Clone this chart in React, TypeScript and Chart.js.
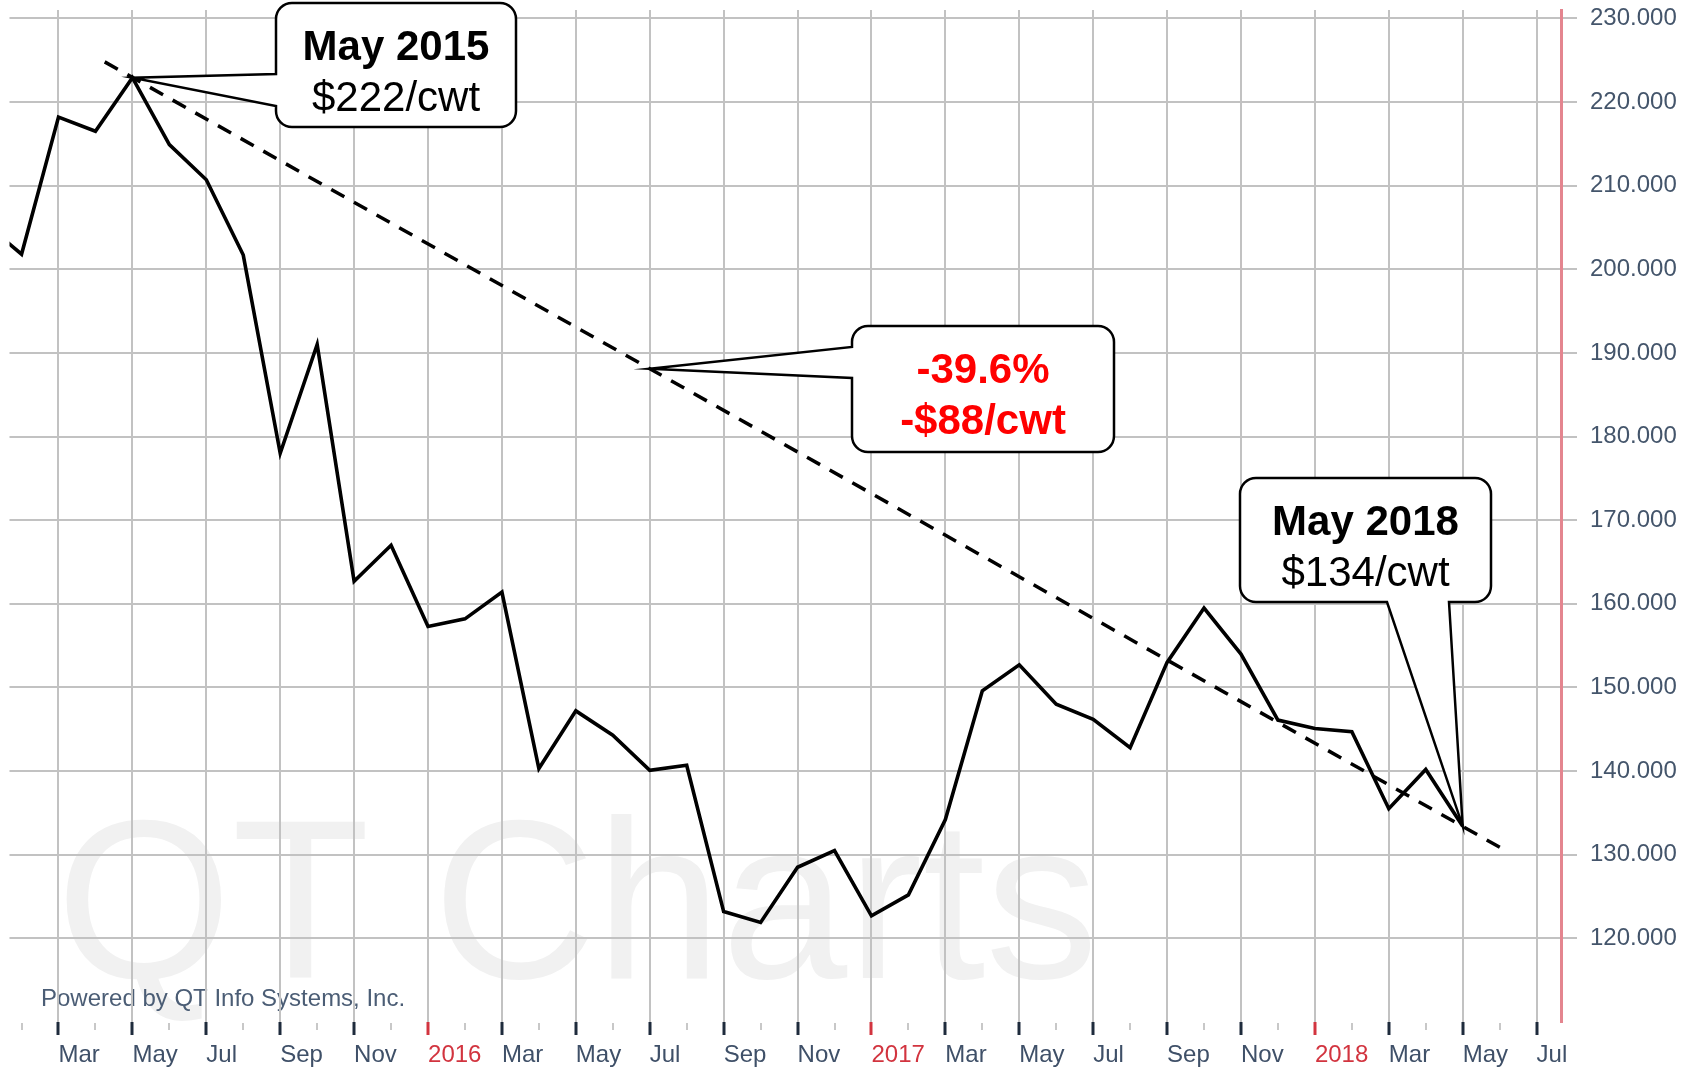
import React, { useEffect, useRef } from "react";
import { Chart, registerables } from "chart.js";

Chart.register(...registerables);

const FONT = '"Liberation Sans", Arial, Helvetica, sans-serif';

// Monthly prices, Jan 2015 .. May 2018 ($/cwt)
const months = [
  "Jan 2015", "Feb 2015", "Mar 2015", "Apr 2015", "May 2015", "Jun 2015", "Jul 2015", "Aug 2015", "Sep 2015", "Oct 2015", "Nov 2015", "Dec 2015",
  "Jan 2016", "Feb 2016", "Mar 2016", "Apr 2016", "May 2016", "Jun 2016", "Jul 2016", "Aug 2016", "Sep 2016", "Oct 2016", "Nov 2016", "Dec 2016",
  "Jan 2017", "Feb 2017", "Mar 2017", "Apr 2017", "May 2017", "Jun 2017", "Jul 2017", "Aug 2017", "Sep 2017", "Oct 2017", "Nov 2017", "Dec 2017",
  "Jan 2018", "Feb 2018", "Mar 2018", "Apr 2018", "May 2018",
];
const prices = [
  205.5, 201.8, 218.2, 216.5, 222.9, 214.9, 210.7, 201.7, 178.0, 191.0, 162.7, 167.0,
  157.3, 158.2, 161.4, 140.3, 147.2, 144.3, 140.1, 140.7, 123.2, 121.9, 128.5, 130.5,
  122.7, 125.2, 134.2, 149.6, 152.7, 148.0, 146.2, 142.8, 153.0, 159.5, 154.0, 146.1,
  145.1, 144.7, 135.5, 140.2, 133.4,
];

// Dashed trend line end points (month index from Jan 2015, price)
const trendMonths = [3.25, 41.2];
const trendPrices = [224.8, 130.4];

// X tick labels for month indices 1..42 (Feb 2015 .. Jul 2018)
const xTickLabels = [
  "", "Mar", "", "May", "", "Jul", "", "Sep", "", "Nov",
  "", "2016", "", "Mar", "", "May", "", "Jul", "", "Sep",
  "", "Nov", "", "2017", "", "Mar", "", "May", "", "Jul",
  "", "Sep", "", "Nov", "", "2018", "", "Mar", "", "May",
  "", "Jul",
];
const yTicks = [120, 130, 140, 150, 160, 170, 180, 190, 200, 210, 220, 230];

const calloutStart = ["May 2015", "$222/cwt"];
const calloutChange = ["-39.6%", "-$88/cwt"];
const calloutEnd = ["May 2018", "$134/cwt"];

const GRID = "#c2c2c2";
const NAVY = "#1e2b3c";
const SLATE = "#3f5068";
const YEAR_RED = "#d2343f";

function isYear(v: number) {
  const l = xTickLabels[v - 1] || "";
  return l.startsWith("20");
}

function trendAt(m: number) {
  const t = (m - trendMonths[0]) / (trendMonths[1] - trendMonths[0]);
  return trendPrices[0] + t * (trendPrices[1] - trendPrices[0]);
}

function bubblePath(
  ctx: CanvasRenderingContext2D,
  x: number, y: number, w: number, h: number, r: number,
  side: "left" | "bottom", a: number, b: number, tx: number, ty: number
) {
  ctx.beginPath();
  ctx.moveTo(x + r, y);
  ctx.lineTo(x + w - r, y);
  ctx.arcTo(x + w, y, x + w, y + r, r);
  ctx.lineTo(x + w, y + h - r);
  ctx.arcTo(x + w, y + h, x + w - r, y + h, r);
  if (side === "bottom") {
    ctx.lineTo(b, y + h);
    ctx.lineTo(tx, ty);
    ctx.lineTo(a, y + h);
  }
  ctx.lineTo(x + r, y + h);
  ctx.arcTo(x, y + h, x, y + h - r, r);
  if (side === "left") {
    ctx.lineTo(x, b);
    ctx.lineTo(tx, ty);
    ctx.lineTo(x, a);
  }
  ctx.lineTo(x, y + r);
  ctx.arcTo(x, y, x + r, y, r);
  ctx.closePath();
}

function drawCallout(
  ctx: CanvasRenderingContext2D,
  box: [number, number, number, number],
  side: "left" | "bottom", a: number, b: number, tx: number, ty: number,
  lines: string[], color: string, boldSecond: boolean
) {
  const [x, y, w, h] = box;
  ctx.save();
  bubblePath(ctx, x, y, w, h, 16, side, a, b, tx, ty);
  ctx.fillStyle = "#ffffff";
  ctx.fill();
  ctx.lineWidth = 2.5;
  ctx.lineJoin = "miter";
  ctx.miterLimit = 20;
  ctx.strokeStyle = "#000000";
  ctx.stroke();
  ctx.fillStyle = color;
  ctx.textAlign = "center";
  ctx.textBaseline = "alphabetic";
  ctx.font = `bold 42px ${FONT}`;
  ctx.fillText(lines[0], x + w / 2, y + 57);
  ctx.font = `${boldSecond ? "bold " : ""}42px ${FONT}`;
  ctx.fillText(lines[1], x + w / 2, y + 108);
  ctx.restore();
}

const overlayPlugin = {
  id: "overlay",
  beforeDraw(chart: any) {
    const ctx = chart.ctx as CanvasRenderingContext2D;
    ctx.save();
    ctx.textAlign = "left";
    ctx.textBaseline = "alphabetic";
    ctx.fillStyle = "#f1f1f1";
    ctx.font = `226px ${FONT}`;
    ctx.fillText("QT Charts", 56, 978);
    ctx.fillStyle = "#4b5d75";
    ctx.font = `24px ${FONT}`;
    ctx.fillText("Powered by QT Info Systems, Inc.", 41, 1006);
    ctx.restore();
  },
  afterDraw(chart: any) {
    const ctx = chart.ctx as CanvasRenderingContext2D;
    const xs = chart.scales.x;
    const ys = chart.scales.y;
    const bottom = chart.chartArea.bottom;
    // minor ticks on odd months
    ctx.save();
    ctx.strokeStyle = "#c8c8c8";
    ctx.lineWidth = 2;
    for (let m = 1; m <= 42; m += 2) {
      const px = Math.round(xs.getPixelForValue(m));
      ctx.beginPath();
      ctx.moveTo(px, bottom + 1);
      ctx.lineTo(px, bottom + 8);
      ctx.stroke();
    }
    ctx.restore();

    const t1x = xs.getPixelForValue(4), t1y = ys.getPixelForValue(prices[4]);
    const t2x = xs.getPixelForValue(18), t2y = ys.getPixelForValue(trendAt(18));
    const t3x = xs.getPixelForValue(40), t3y = ys.getPixelForValue(prices[40]);

    drawCallout(ctx, [276, 3, 240, 124], "left", 74, 106, t1x, t1y, calloutStart, "#000000", false);
    drawCallout(ctx, [852, 326, 262, 126], "left", 347, 378, t2x, t2y, calloutChange, "#ff0000", true);
    drawCallout(ctx, [1240, 478, 251, 124], "bottom", 1387, 1449, t3x, t3y, calloutEnd, "#000000", false);
  },
};

export default function App() {
  const ref = useRef<HTMLCanvasElement | null>(null);

  useEffect(() => {
    if (!ref.current) return;
    Chart.defaults.font.family = FONT;
    const chart = new Chart(ref.current, {
      type: "line",
      data: {
        datasets: [
          {
            label: "Price",
            data: prices.map((v, i) => ({ x: i, y: v })),
            borderColor: "#000000",
            borderWidth: 3.6,
            pointRadius: 0,
            tension: 0,
            fill: false,
          },
          {
            label: "Trend",
            data: trendMonths.map((m, i) => ({ x: m, y: trendPrices[i] })),
            borderColor: "#000000",
            borderWidth: 3.5,
            borderDash: [15, 11],
            pointRadius: 0,
            fill: false,
          },
        ],
      },
      options: {
        animation: false,
        responsive: false,
        maintainAspectRatio: false,
        layout: { padding: { left: 9.5, top: 10, right: 0, bottom: 0 } },
        plugins: {
          legend: { display: false },
          tooltip: { enabled: false },
        },
        scales: {
          x: {
            type: "linear",
            min: 0.674,
            max: 42.66,
            afterBuildTicks: (scale: any) => {
              scale.ticks = xTickLabels.map((_, i) => ({ value: i + 1 }));
            },
            afterFit: (scale: any) => {
              scale.height = 46;
              scale.paddingLeft = 0;
              scale.paddingRight = 0;
            },
            border: { display: false },
            grid: {
              color: (c: any) => (c.tick && c.tick.value % 2 === 0 ? GRID : "transparent"),
              lineWidth: 2,
              tickLength: 13,
              tickColor: (c: any) =>
                c.tick && c.tick.value % 2 === 0 ? (isYear(c.tick.value) ? YEAR_RED : NAVY) : "transparent",
              tickWidth: 3,
            },
            ticks: {
              autoSkip: false,
              maxRotation: 0,
              minRotation: 0,
              align: "start",
              padding: 6,
              font: { size: 24, family: FONT },
              color: (c: any) => (c.tick && isYear(c.tick.value) ? YEAR_RED : SLATE),
              callback: (v: any) => xTickLabels[Number(v) - 1] ?? "",
            },
          },
          y: {
            position: "right",
            min: 110,
            max: 231,
            afterBuildTicks: (scale: any) => {
              scale.ticks = yTicks.map((v) => ({ value: v }));
            },
            afterFit: (scale: any) => {
              scale.width = 135;
              scale.paddingTop = 0;
              scale.paddingBottom = 0;
            },
            border: { display: true, color: "#e4858f", width: 3 },
            grid: {
              color: GRID,
              lineWidth: 2,
              tickLength: 16,
              tickColor: GRID,
              tickWidth: 2,
            },
            ticks: {
              padding: 13,
              font: { size: 24, family: FONT },
              color: "#44556b",
              callback: (v: any) => Number(v).toFixed(3),
            },
          },
        },
      },
      plugins: [overlayPlugin],
    } as any);
    return () => chart.destroy();
  }, []);

  return (
    <div style={{ position: "absolute", left: 0, top: 0, width: 1696, height: 1068, background: "#ffffff" }}>
      <canvas ref={ref} width={1696} height={1068} style={{ display: "block", width: 1696, height: 1068 }} />
    </div>
  );
}
